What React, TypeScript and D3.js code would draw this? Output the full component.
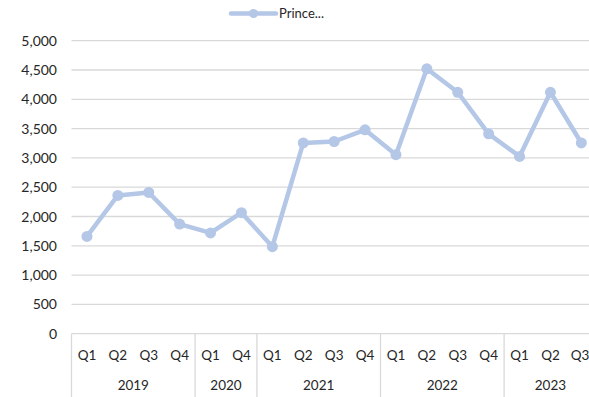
import React from "react";
import * as d3 from "d3";

// Quarterly series, grouped by year
const quarters = ["Q1", "Q2", "Q3", "Q4", "Q1", "Q4", "Q1", "Q2", "Q3", "Q4", "Q1", "Q2", "Q3", "Q4", "Q1", "Q2", "Q3"];
const years = ["2019", "2020", "2021", "2022", "2023"];
const quartersPerYear = [4, 2, 4, 4, 3];
const values = [1660, 2360, 2410, 1870, 1720, 2065, 1485, 3255, 3280, 3480, 3055, 4520, 4120, 3410, 3025, 4120, 3255];
const yTicks = [0, 500, 1000, 1500, 2000, 2500, 3000, 3500, 4000, 4500, 5000];
const seriesName = "Prince...";

const W = 589;
const H = 397;
const plotLeft = 71.5;
const step = 30.9;
const plotTop = 40.7;
const plotBottom = 333.7;
const lineColor = "#b4c7e7";
const gridColor = "#d9d9d9";
const textColor = "#262626";
const font = "Lato, 'Open Sans', sans-serif";

export default function App() {
  const idx = d3.range(quarters.length);
  const x = d3
    .scaleBand<number>()
    .domain(idx)
    .range([plotLeft, plotLeft + step * quarters.length])
    .padding(0);
  const y = d3.scaleLinear().domain([0, 5000]).range([plotBottom, plotTop]);
  const cx = (i: number) => (x(i) as number) + x.bandwidth() / 2;

  const line = d3
    .line<number>()
    .x((_, i) => cx(i))
    .y((v) => y(v));

  // year group boundaries
  const bounds: number[] = [0];
  quartersPerYear.forEach((n) => bounds.push(bounds[bounds.length - 1] + n));
  const edge = (k: number) => plotLeft + step * k;

  return (
    <svg
      width={W}
      height={H}
      style={{ position: "absolute", left: 0, top: 0, background: "#fff" }}
      fontFamily={font}
    >
      <rect width={W} height={H} fill="#fff" />
      {/* gridlines */}
      {yTicks.map((t) => (
        <line
          key={t}
          x1={plotLeft}
          x2={W}
          y1={y(t)}
          y2={y(t)}
          stroke={gridColor}
          strokeWidth={1.3}
        />
      ))}
      {/* y tick labels */}
      {yTicks.map((t) => (
        <text
          key={"l" + t}
          x={57}
          y={y(t)}
          dy="0.36em"
          textAnchor="end"
          fontSize={14}
          fill={textColor}
        >
          {d3.format(",")(t)}
        </text>
      ))}
      {/* category axis: group dividers */}
      {bounds.map((b) => (
        <line
          key={"d" + b}
          x1={edge(b)}
          x2={edge(b)}
          y1={plotBottom}
          y2={H}
          stroke={gridColor}
          strokeWidth={1.3}
        />
      ))}
      {quarters.map((q, i) => (
        <text
          key={"q" + i}
          x={Math.min(cx(i), W - 9)}
          y={355}
          dy="0.36em"
          textAnchor="middle"
          fontSize={13.5}
          fill={textColor}
        >
          {q}
        </text>
      ))}
      {years.map((yr, k) => (
        <text
          key={yr}
          x={(edge(bounds[k]) + edge(bounds[k + 1])) / 2}
          y={385}
          dy="0.36em"
          textAnchor="middle"
          fontSize={13.5}
          fill={textColor}
        >
          {yr}
        </text>
      ))}
      {/* series */}
      <path
        d={line(values) || ""}
        fill="none"
        stroke={lineColor}
        strokeWidth={4.5}
        strokeLinejoin="round"
        strokeLinecap="round"
      />
      {values.map((v, i) => (
        <circle key={"p" + i} cx={cx(i)} cy={y(v)} r={5.5} fill={lineColor} />
      ))}
      {/* legend */}
      <line x1={231} x2={276} y1={13.5} y2={13.5} stroke={lineColor} strokeWidth={4.5} strokeLinecap="round" />
      <circle cx={253.5} cy={13.5} r={4.5} fill={lineColor} />
      <text x={279} y={13.5} dy="0.36em" fontSize={13} fill={textColor}>
        {seriesName}
      </text>
    </svg>
  );
}
